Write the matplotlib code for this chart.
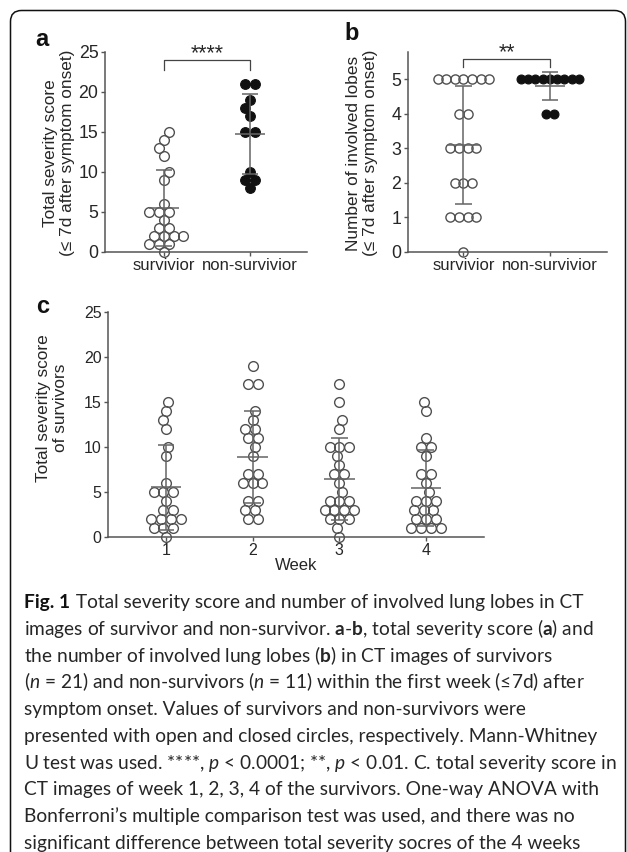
import numpy as np
import matplotlib
matplotlib.use("Agg")
import matplotlib.pyplot as plt
from matplotlib.patches import FancyBboxPatch
from matplotlib.transforms import IdentityTransform, offset_copy

# ---------------- data ----------------
groups_ab = ["survivior", "non-survivior"]
score_survivor = [15, 14, 13, 12, 10, 9, 6, 5, 5, 5, 4, 3, 3, 2, 2, 2, 2, 1, 1, 1, 0]
score_nonsurvivor = [21, 21, 19, 18, 17, 15, 15, 10, 9, 9, 8]
lobes_survivor = [5, 5, 5, 5, 5, 5, 5, 4, 4, 3, 3, 3, 3, 2, 2, 2, 1, 1, 1, 1, 0]
lobes_nonsurvivor = [5, 5, 5, 5, 5, 5, 5, 5, 5, 4, 4]
weeks = [1, 2, 3, 4]
week1 = [15, 14, 13, 12, 10, 9, 6, 5, 5, 5, 4, 3, 3, 2, 2, 2, 2, 1, 1, 1, 0]
week2 = [19, 17, 17, 14, 13, 12, 12, 11, 11, 10, 9, 7, 7, 6, 6, 6, 4, 4, 3, 3, 2, 2]
week3 = [17, 15, 13, 12, 10, 10, 10, 9, 8, 7, 7, 6, 5, 4, 4, 4, 3, 3, 3, 3, 2, 2, 2, 1, 0]
week4 = [15, 14, 11, 10, 10, 9, 7, 7, 6, 5, 4, 4, 4, 3, 3, 3, 2, 2, 2, 1, 1, 1, 1]
yticks_score = [0, 5, 10, 15, 20, 25]
yticks_lobes = [0, 1, 2, 3, 4, 5]
sig_a = "****"
sig_b = "**"

caption_title = "Fig. 1"
caption_lines = [
    " Total severity score and number of involved lung lobes in CT",
    r"images of survivor and non-survivor. $\mathbf{a}$-$\mathbf{b}$, total severity score ($\mathbf{a}$) and",
    r"the number of involved lung lobes ($\mathbf{b}$) in CT images of survivors",
    r"($\mathit{n}$ = 21) and non-survivors ($\mathit{n}$ = 11) within the first week (≤7d) after",
    "symptom onset. Values of survivors and non-survivors were",
    "presented with open and closed circles, respectively. Mann-Whitney",
    r"U test was used. ****, $\mathit{p}$ < 0.0001; **, $\mathit{p}$ < 0.01. C. total severity score in",
    "CT images of week 1, 2, 3, 4 of the survivors. One-way ANOVA with",
    "Bonferroni’s multiple comparison test was used, and there was no",
    "significant difference between total severity socres of the 4 weeks",
]

# ---------------- style ----------------
CAP_FONT = "Lato"
plt.rcParams["font.family"] = ["Liberation Sans", "DejaVu Sans"]
plt.rcParams["mathtext.fontset"] = "custom"
plt.rcParams["mathtext.rm"] = CAP_FONT
plt.rcParams["mathtext.it"] = CAP_FONT + ":italic"
plt.rcParams["mathtext.bf"] = CAP_FONT + ":bold"

W, H = 627, 852
fig = plt.figure(figsize=(W / 100, H / 100), dpi=100)
fig.patch.set_facecolor("white")

AX_COL = "#555555"
TXT_COL = "#262626"
PT_COL = "#505050"
BAR_COL = "#656565"
MS = 7.0
D_PX = 9.8


def rect(x0, y0, x1, y1):
    return [x0 / W, 1 - y1 / H, (x1 - x0) / W, (y1 - y0) / H]


def fx(x):
    return x / W


def fy(y):
    return 1 - y / H


def style_axes(ax, ticksize):
    for s in ["top", "right"]:
        ax.spines[s].set_visible(False)
    for s in ["left", "bottom"]:
        ax.spines[s].set_color(AX_COL)
        ax.spines[s].set_linewidth(1.1)
    ax.tick_params(axis="both", direction="out", length=3.2, width=1.0,
                   color=AX_COL, labelcolor=TXT_COL, labelsize=ticksize, pad=1.5)
    ax.set_facecolor("none")


def swarm(ax, values, center, d_px=D_PX, thr=0.93):
    p0 = ax.transData.transform((0, 0))
    p1 = ax.transData.transform((1, 1))
    ppx, ppy = p1[0] - p0[0], p1[1] - p0[1]
    uniq, counts = np.unique(np.asarray(values), return_counts=True)
    placed = []
    xs, ys = [], []
    last = 1.0
    for v, n in zip(uniq, counts):
        yp = v * ppy
        base = (np.arange(n) - (n - 1) / 2) * d_px
        chosen = None
        for m in range(0, 80):
            mag = m * 0.25 * d_px
            signs = [0.0] if m == 0 else [-np.sign(last), np.sign(last)]
            for sg in signs:
                s = sg * mag
                cand = base + s
                ok = all(np.hypot(cx - qx, yp - qy) >= thr * d_px
                         for cx in cand for (qx, qy) in placed)
                if ok:
                    chosen = (s, cand)
                    break
            if chosen is not None:
                break
        s, cand = chosen
        if s != 0:
            last = s
        placed += [(cx, yp) for cx in cand]
        xs += list(center + cand / ppx)
        ys += [v] * n
    return np.array(xs), np.array(ys)


def mean_sd(ax, values, center, mean_hw=0.175, cap_hw=0.095):
    v = np.asarray(values, dtype=float)
    m, sd = v.mean(), v.std(ddof=1)
    ax.vlines(center, m - sd, m + sd, color=BAR_COL, lw=1.1, zorder=4)
    ax.hlines([m - sd, m + sd], center - cap_hw, center + cap_hw, color=BAR_COL, lw=1.1, zorder=4)
    ax.hlines(m, center - mean_hw, center + mean_hw, color=BAR_COL, lw=1.1, zorder=4)


def draw_points(ax, values, center, filled, d_px=D_PX, ms=MS):
    xs, ys = swarm(ax, values, center, d_px=d_px)
    if filled:
        ax.plot(xs, ys, "o", ms=ms, mfc="#111111", mec="#111111", mew=0.8,
                ls="none", zorder=3, clip_on=False)
    else:
        ax.plot(xs, ys, "o", ms=ms, mfc="none", mec=PT_COL, mew=1.0,
                ls="none", zorder=3, clip_on=False)


def bracket(ax, x0, x1, y, leg, text, tsize=15.5):
    ax.plot([x0, x0, x1, x1], [y - leg, y, y, y - leg], color="#444444", lw=0.9,
            clip_on=False, zorder=5)
    ax.annotate(text, xy=((x0 + x1) / 2, y), xytext=(0, 0.6), textcoords="offset points",
                ha="center", va="baseline", fontsize=tsize, color=TXT_COL,
                annotation_clip=False)


# ---------------- panel a ----------------
ax_a = fig.add_axes(rect(105, 51.7, 307, 251.7))
style_axes(ax_a, 12.8)
ax_a.tick_params(axis="x", labelsize=12)
ax_a.set_xlim(-0.685, 1.665)
ax_a.set_ylim(0, 25)
ax_a.set_yticks(yticks_score)
ax_a.set_xticks([0, 1])
ax_a.set_xticklabels(groups_ab)
draw_points(ax_a, score_survivor, 0, False)
draw_points(ax_a, score_nonsurvivor, 1, True)
mean_sd(ax_a, score_survivor, 0)
mean_sd(ax_a, score_nonsurvivor, 1)
bracket(ax_a, 0, 1, 24.0, 1.3, sig_a)

# ---------------- panel b ----------------
ax_b = fig.add_axes(rect(408, 51.7, 607, 251.7))
style_axes(ax_b, 12.8)
ax_b.tick_params(axis="x", labelsize=12)
ax_b.set_xlim(-0.64, 1.66)
ax_b.set_ylim(0, 5.8)
ax_b.set_yticks(yticks_lobes)
ax_b.set_xticks([0, 1])
ax_b.set_xticklabels(groups_ab)
draw_points(ax_b, lobes_survivor, 0, False, d_px=8.6, ms=6.6)
draw_points(ax_b, lobes_nonsurvivor, 1, True, d_px=7.3, ms=6.4)
mean_sd(ax_b, lobes_survivor, 0)
mean_sd(ax_b, lobes_nonsurvivor, 1)
bracket(ax_b, 0, 1, 5.6, 0.25, sig_b)

# ---------------- panel c ----------------
ax_c = fig.add_axes(rect(108, 311.7, 484, 536.7))
style_axes(ax_c, 11.5)
ax_c.set_xlim(0.333, 4.667)
ax_c.set_ylim(0, 25)
ax_c.set_yticks(yticks_score)
ax_c.set_xticks(weeks)
ax_c.set_xlabel("Week", fontsize=12, color=TXT_COL, labelpad=0)
for wk, vals in zip(weeks, [week1, week2, week3, week4]):
    draw_points(ax_c, vals, wk, False)
    mean_sd(ax_c, vals, wk)

# ---------------- labels ----------------
fig.text(fx(59), fy(153), "Total severity score\n(≤ 7d after symptom onset)", rotation=90,
         ha="center", va="center", fontsize=12.4, color=TXT_COL, linespacing=1.15)
fig.text(fx(362), fy(153), "Number of involved lobes\n(≤ 7d after symptom onset)", rotation=90,
         ha="center", va="center", fontsize=12.4, color=TXT_COL, linespacing=1.15)
fig.text(fx(52), fy(408), "Total severity score\nof survivors", rotation=90,
         ha="center", va="center", fontsize=12.4, color=TXT_COL, linespacing=1.15)

fig.text(fx(42), fy(39), "a", fontsize=17, fontweight="bold", ha="center", va="center", color="#111111")
fig.text(fx(352), fy(33), "b", fontsize=17, fontweight="bold", ha="center", va="center", color="#111111")
fig.text(fx(43), fy(307), "c", fontsize=17, fontweight="bold", ha="center", va="center", color="#111111")

# ---------------- caption ----------------
renderer = fig.canvas.get_renderer()
base_fs = 14
caps = []
for i, line in enumerate(caption_lines):
    t = fig.text(fx(24), fy(608.3 + 26.7 * i), line, fontsize=base_fs,
                 family=[CAP_FONT, "DejaVu Sans"],
                 color="#262626", ha="left", va="baseline")
    caps.append(t)
title_t = fig.text(fx(24), fy(608.3), caption_title, fontsize=base_fs, fontweight="bold",
                   family=[CAP_FONT, "DejaVu Sans"], color="#111111", ha="left", va="baseline")
maxw = max(t.get_window_extent(renderer).width for t in caps[1:])
fs = min(base_fs * 594.0 / maxw, 16.5)
for t in caps + [title_t]:
    t.set_fontsize(fs)
tw = title_t.get_window_extent(renderer).width
caps[0].set_x(fx(24 + tw + 1))

# ---------------- border ----------------
border = FancyBboxPatch((10.5, -30), 615, 852 - 10.5 + 30,
                        boxstyle="round,pad=0,rounding_size=11",
                        transform=IdentityTransform(), fill=False,
                        edgecolor="#111111", linewidth=1.1)
fig.add_artist(border)

fig.savefig("out.png", dpi=100, facecolor="white")
